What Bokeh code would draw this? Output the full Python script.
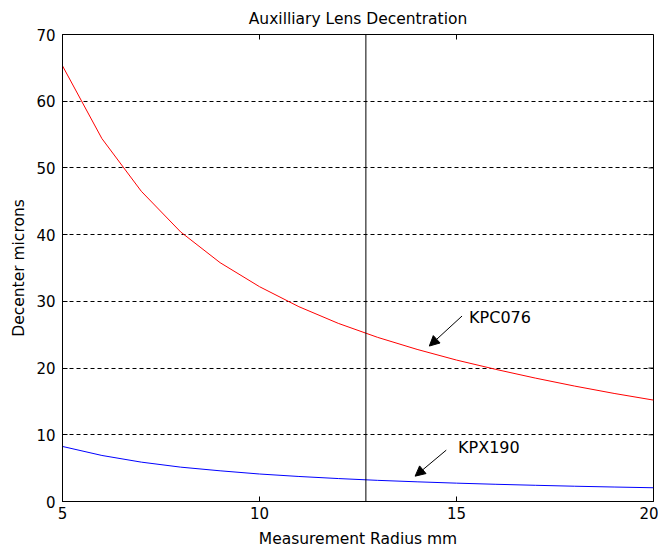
import math
from bokeh.plotting import figure
from bokeh.models import (Range1d, Span, Arrow, NormalHead,
                          ColumnDataSource, FixedTicker)
from bokeh.core.properties import value
from bokeh.embed import file_html
from bokeh.resources import INLINE

# ---- data ----
radius_mm = [5, 6, 7, 8, 9, 10, 11, 12, 13, 14, 15, 16, 17, 18, 19, 20]
kpc076 = [65.3, 54.4, 46.5, 40.4, 35.8, 32.2, 29.2, 26.7, 24.6, 22.8,
          21.2, 19.8, 18.5, 17.3, 16.2, 15.2]
kpx190 = [8.25, 6.9, 5.9, 5.15, 4.6, 4.12, 3.75, 3.44, 3.17, 2.95,
          2.75, 2.58, 2.43, 2.29, 2.17, 2.06]
marker_radius = 12.7

x_ticks = [5, 10, 15, 20]
y_ticks = [0, 10, 20, 30, 40, 50, 60, 70]
x_min, x_max = 5, 20
y_min, y_max = 0, 70

label_names = ["KPC076", "KPX190"]
label_x = [15.32, 15.04]
label_y = [27.6, 8.1]
arrow_x_start = [15.14, 14.74]
arrow_y_start = [27.8, 7.7]
arrow_x_end = [14.31, 13.95]
arrow_y_end = [23.3, 3.8]

FONT = "DejaVu Sans"

p = figure(width=658, height=550, output_backend="svg", toolbar_location=None,
           x_range=Range1d(x_min, x_max), y_range=Range1d(y_min, y_max),
           title="Auxilliary Lens Decentration",
           x_axis_label="Measurement Radius mm", y_axis_label="Decenter microns",
           min_border_left=62, min_border_right=5, min_border_top=34,
           min_border_bottom=49)
p.background_fill_color = "white"
p.border_fill_color = "white"
p.outline_line_color = "black"
p.outline_line_width = 1

p.title.align = "center"
p.title.text_font = FONT
p.title.text_font_size = "15.5px"
p.title.text_font_style = "normal"
p.title.text_color = "black"
p.title.standoff = 14

for ax in p.xaxis + p.yaxis:
    ax.major_tick_in = 5
    ax.major_tick_out = 0
    ax.minor_tick_line_color = None
    ax.axis_line_color = "black"
    ax.major_tick_line_color = "black"
    ax.major_label_text_font = FONT
    ax.major_label_text_font_size = "15px"
    ax.major_label_text_color = "black"
    ax.axis_label_text_font = FONT
    ax.axis_label_text_font_size = "15.5px"
    ax.axis_label_text_font_style = "normal"
    ax.axis_label_text_color = "black"

p.xaxis.ticker = FixedTicker(ticks=x_ticks)
p.yaxis.ticker = FixedTicker(ticks=y_ticks)
p.xaxis.major_label_standoff = 5
p.yaxis.major_label_standoff = 7
p.xaxis.axis_label_standoff = 8
p.yaxis.axis_label_standoff = 5

# mirrored tick marks on the top and right edges of the box
p.ray(x=x_ticks, y=[y_max] * len(x_ticks), length=5, length_units="screen",
      angle=-math.pi / 2, line_color="black", line_width=1)
p.ray(x=[x_max] * len(y_ticks), y=y_ticks, length=5, length_units="screen",
      angle=math.pi, line_color="black", line_width=1)

p.xgrid.grid_line_color = None
p.ygrid.ticker = FixedTicker(ticks=y_ticks)
p.ygrid.grid_line_color = "black"
p.ygrid.grid_line_dash = "4 3"
p.ygrid.grid_line_width = 1

src = ColumnDataSource(dict(x=radius_mm, kpc=kpc076, kpx=kpx190))
p.line("x", "kpc", source=src, line_color="#ff0000", line_width=1)
p.line("x", "kpx", source=src, line_color="#0000ff", line_width=1)

p.add_layout(Span(location=marker_radius, dimension="height",
                  line_color="black", line_width=1))

asrc = ColumnDataSource(dict(xs=arrow_x_start, ys=arrow_y_start,
                             xe=arrow_x_end, ye=arrow_y_end))
p.add_layout(Arrow(end=NormalHead(size=10, fill_color="black", line_color="black"),
                   x_start="xs", y_start="ys", x_end="xe", y_end="ye",
                   source=asrc, line_color="black", line_width=1))

lsrc = ColumnDataSource(dict(x=label_x, y=label_y, t=label_names))
p.text("x", "y", text="t", source=lsrc, text_font=value(FONT),
       text_font_size="16px", text_align="left", text_baseline="middle",
       text_color="black")

open("out.html", "w").write(file_html(p, INLINE))
